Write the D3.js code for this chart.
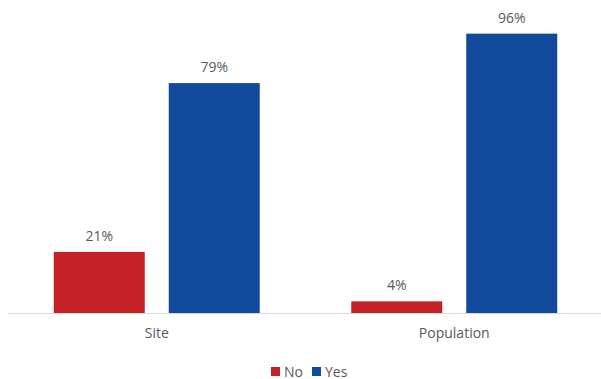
<!DOCTYPE html>
<html>
<head>
<meta charset="utf-8">
<script src="https://cdn.jsdelivr.net/npm/d3@7"></script>
<style>
  html, body { margin: 0; padding: 0; background: #fff; }
  svg text { font-family: "Open Sans", "Noto Sans", sans-serif; fill: #595959; }
</style>
</head>
<body>
<svg id="chart" width="601" height="379"></svg>
<script>
// Share of answers per group
const categories = ["Site", "Population"];
const seriesNames = ["No", "Yes"];
const noValues = [21, 4];
const yesValues = [79, 96];
const colors = ["#C42127", "#114A9C"];

const rows = categories.map((c, i) => ({ category: c, values: [noValues[i], yesValues[i]] }));

const svg = d3.select("#chart");
const baseY = 313;

const x0 = d3.scaleBand().domain(categories).range([8, 603]).padding(0);
const x1 = d3.scaleBand().domain(seriesNames).range([0, x0.bandwidth()])
  .paddingInner(0.2087).paddingOuter(0.398);
const y = d3.scaleLinear().domain([0, 100]).range([baseY, 22]);

// bars
const groups = svg.selectAll("g.group").data(rows).join("g")
  .attr("class", "group")
  .attr("transform", d => `translate(${x0(d.category)},0)`);

groups.selectAll("rect").data(d => d.values.map((v, i) => ({ key: seriesNames[i], value: v, i })))
  .join("rect")
  .attr("x", d => x1(d.key))
  .attr("width", x1.bandwidth())
  .attr("y", d => y(d.value))
  .attr("height", d => y(0) - y(d.value))
  .attr("fill", d => colors[d.i]);

// value labels
groups.selectAll("text.val").data(d => d.values.map((v, i) => ({ key: seriesNames[i], value: v })))
  .join("text")
  .attr("class", "val")
  .attr("x", d => x1(d.key) + x1.bandwidth() / 2)
  .attr("y", d => y(d.value) - 11)
  .attr("text-anchor", "middle")
  .attr("font-size", 14)
  .text(d => d.value + "%");

// category axis
const axis = svg.append("g").attr("transform", `translate(0,${baseY})`)
  .call(d3.axisBottom(x0).tickSize(0).tickPadding(15));
axis.select(".domain").attr("stroke", "#d9d9d9").attr("stroke-width", 1);
axis.selectAll("text").attr("font-size", 14).attr("fill", "#595959")
  .style("font-family", '"Open Sans", "Noto Sans", sans-serif');

// legend
const legend = svg.append("g").attr("transform", "translate(271,367)");
const items = legend.selectAll("g").data(seriesNames).join("g")
  .attr("transform", (d, i) => `translate(${i * 41},0)`);
items.append("rect").attr("width", 9).attr("height", 9).attr("fill", (d, i) => colors[i]);
items.append("text").attr("x", 13).attr("y", 9.5).attr("font-size", 14).text(d => d);
</script>
</body>
</html>
